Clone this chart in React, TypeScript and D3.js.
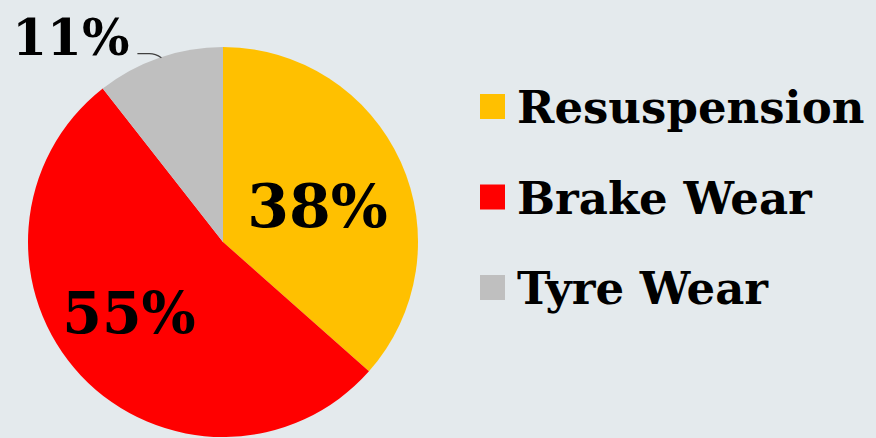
import { useLayoutEffect, useRef } from 'react'
import * as d3 from 'd3'

const categories = ['Resuspension', 'Brake Wear', 'Tyre Wear']
const values = [38, 55, 11]
const labels = ['38%', '55%', '11%']
const colors = ['#ffc000', '#ff0000', '#bfbfbf']

const W = 876
const H = 438
const FONT = '"DejaVu Serif", Georgia, serif'

export default function App() {
  const ref = useRef<SVGSVGElement | null>(null)

  useLayoutEffect(() => {
    if (!ref.current) return
    const svg = d3.select(ref.current)
    svg.selectAll('*').remove()

    svg.append('rect').attr('width', W).attr('height', H).attr('fill', '#e4eaed')

    const cx = 223
    const cy = 242
    const radius = 195

    const g = svg.append('g').attr('transform', `translate(${cx},${cy})`)
    const pie = d3.pie<number>().value((d) => d).sort(null)
    const arcs = pie(values)
    const arc = d3.arc<d3.PieArcDatum<number>>().innerRadius(0).outerRadius(radius)

    g.selectAll('path')
      .data(arcs)
      .join('path')
      .attr('fill', (_, i) => colors[i])
      .attr('d', arc)

    // big slices get labels inside, the small one sits outside with a leader
    const inside = [
      { r: 0.52, dx: 2, dy: 5, size: 60 },
      { r: 0.62, dx: -6, dy: -12, size: 57 },
    ]
    arcs.forEach((a, i) => {
      const mid = (a.startAngle + a.endAngle) / 2
      if (i < 2) {
        const o = inside[i]
        const r = radius * o.r
        g.append('text')
          .attr('x', Math.sin(mid) * r + o.dx)
          .attr('y', -Math.cos(mid) * r + o.dy)
          .attr('text-anchor', 'middle')
          .attr('dy', '0.36em')
          .attr('font-family', FONT)
          .attr('font-weight', 700)
          .attr('font-size', o.size)
          .attr('fill', '#000')
          .text(labels[i])
      } else {
        const ex = Math.sin(mid) * radius
        const ey = -Math.cos(mid) * radius
        // leader runs from the label to the slice edge
        const endX = ex + 2
        const endY = ey
        const startX = endX - 24
        const startY = endY - 4
        g.append('path')
          .attr('d', `M${startX},${startY} L${startX + 12},${startY} Q${startX + 18},${startY} ${endX},${endY}`)
          .attr('fill', 'none')
          .attr('stroke', '#404040')
          .attr('stroke-width', 1.3)
        g.append('text')
          .attr('x', startX - 8)
          .attr('y', startY + 1)
          .attr('text-anchor', 'end')
          .attr('font-family', FONT)
          .attr('font-weight', 700)
          .attr('font-size', 50)
          .attr('fill', '#000')
          .text(labels[i])
      }
    })

    const legend = svg.append('g').attr('transform', 'translate(480,0)')
    const ly = d3.scalePoint<string>().domain(categories).range([106, 287])
    categories.forEach((c, i) => {
      const y = ly(c) ?? 0
      legend
        .append('rect')
        .attr('x', 0)
        .attr('y', y - 12)
        .attr('width', 25)
        .attr('height', 25)
        .attr('fill', colors[i])
      legend
        .append('text')
        .attr('x', 37)
        .attr('y', y + 17)
        .attr('font-family', FONT)
        .attr('font-weight', 700)
        .attr('font-size', 45)
        .attr('fill', '#000')
        .text(c)
    })
  }, [])

  return (
    <svg
      ref={ref}
      width={W}
      height={H}
      style={{ position: 'absolute', left: 0, top: 0, display: 'block' }}
    />
  )
}
